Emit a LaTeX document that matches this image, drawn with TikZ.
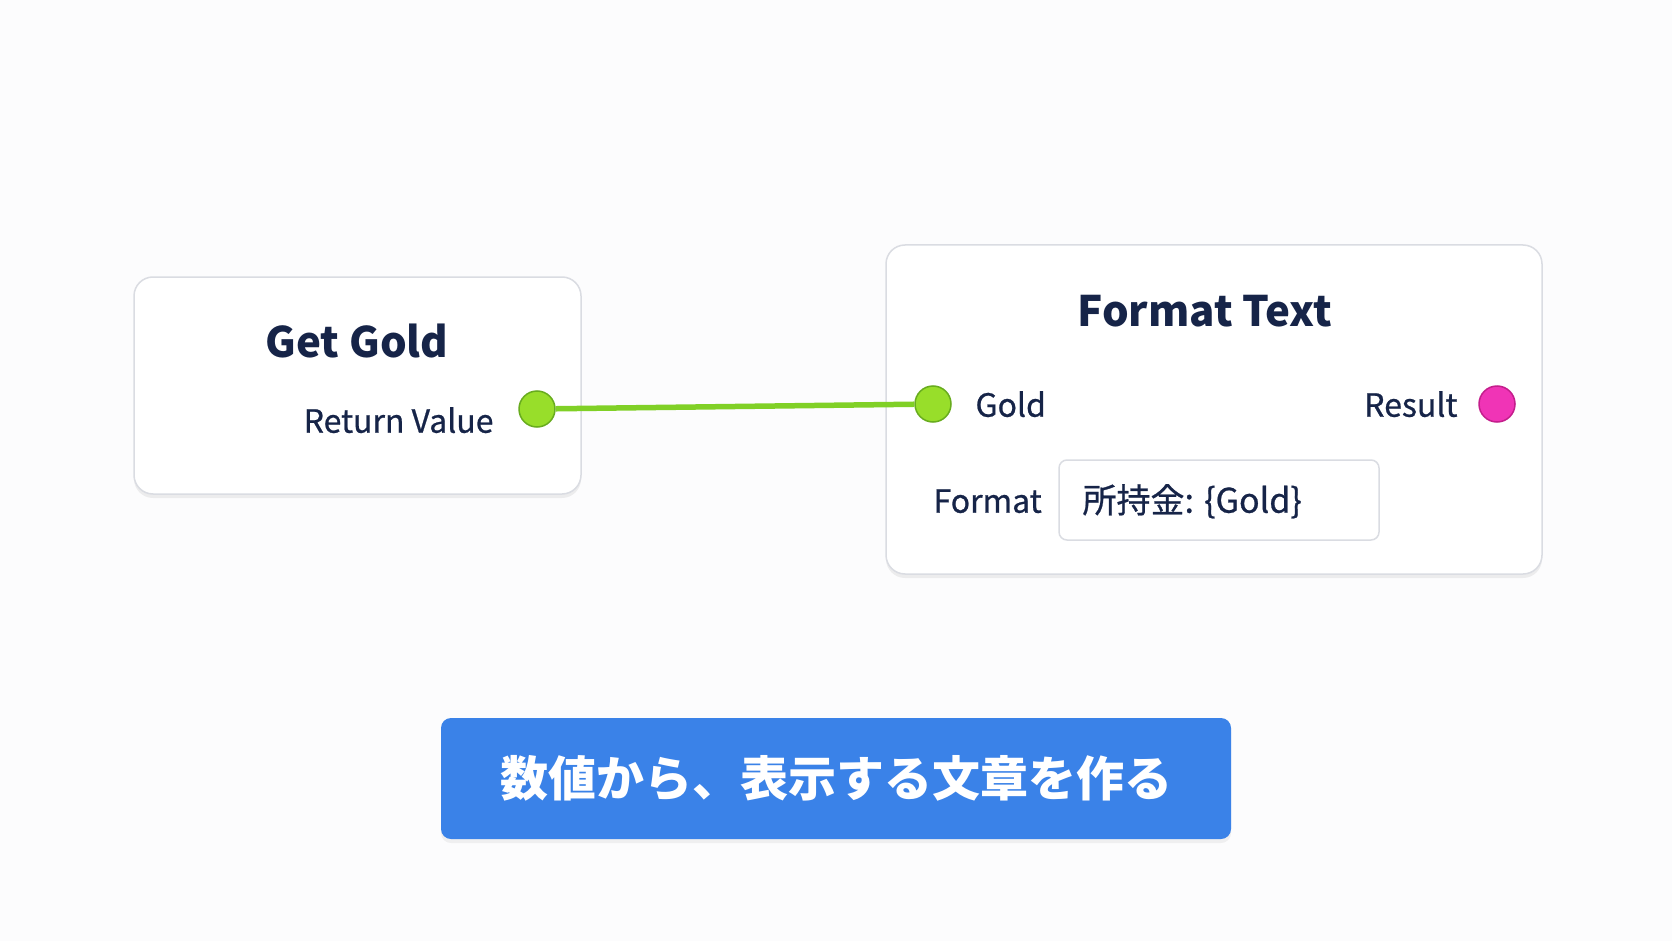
\documentclass[tikz,border=0pt]{standalone}
\usepackage{fontspec}
\setmainfont{Noto Sans CJK JP}
\newfontfamily\jpfont{Noto Sans CJK JP}
\newfontfamily\medfont{Noto Sans CJK JP}[FakeBold=0.7]
\usetikzlibrary{positioning,shadows}
\definecolor{inkline}{RGB}{22,36,72}
\definecolor{boxline}{RGB}{218,220,226}
\definecolor{pagefill}{RGB}{252,252,253}
\definecolor{portfill}{RGB}{152,222,42}
\definecolor{portline}{RGB}{104,172,30}
\definecolor{wirecol}{RGB}{128,208,38}
\definecolor{pinkfill}{RGB}{240,52,182}
\definecolor{pinkline}{RGB}{196,30,140}
\definecolor{bannerfill}{RGB}{58,130,232}

\begin{document}
\begin{tikzpicture}[x=1pt, y=-1pt,
  gnode/.style={draw=boxline, line width=1.5pt, rounded corners=19pt, fill=white,
    drop shadow={opacity=0.12, shadow xshift=0pt, shadow yshift=-4pt}},
  title/.style={text=inkline, font=\fontsize{42}{48}\selectfont\bfseries},
  plabel/.style={text=inkline, font=\fontsize{32}{38}\selectfont\medfont},
  port/.style={circle, draw=portline, fill=portfill, line width=1.5pt, minimum size=36pt, inner sep=0pt},
  portp/.style={port, draw=pinkline, fill=pinkfill},
  wire/.style={draw=wirecol, line width=5.5pt},
  field/.style={draw=boxline, line width=1.5pt, rounded corners=8pt, fill=white},
  banner/.style={fill=bannerfill, rounded corners=10pt, text=white,
    font=\fontsize{48}{54}\selectfont\jpfont\bfseries,
    drop shadow={opacity=0.10, shadow xshift=0pt, shadow yshift=-4pt}}]

\fill[pagefill] (0,0) rectangle (1672,941);
\useasboundingbox (0,0) rectangle (1672,941);

% ---- node boxes ----
\node[gnode, minimum width=447pt, minimum height=217pt] (getgold) at (357.5,385.5) {};
\node[gnode, minimum width=656pt, minimum height=329pt] (fmttext) at (1214,409.5) {};

% ---- titles ----
\node[title] (getgoldT) at (357,341) {Get Gold};
\node[title] (fmttextT) at (1205,311) {Format Text};

% ---- pins ----
\node[port] (rv) at (537,409) {};
\node[port] (goldin) at (933,404) {};
\node[portp] (result) at (1497,404) {};
\node[plabel, anchor=mid east] (rvL) at (497,430) {Return Value};
\node[plabel, anchor=mid west] (goldL) at (972,414) {Gold};
\node[plabel, anchor=mid east] (resultL) at (1461,414) {Result};
\node[plabel, anchor=mid west] (formatL) at (930,510) {Format};

% ---- format field ----
\node[field, minimum width=320pt, minimum height=80pt] (fmtfield) at (1219,500) {};
\node[plabel, font=\fontsize{34}{40}\selectfont\medfont, anchor=mid west] (fmtval) at (1079,510) {所持金: \{Gold\}};

% ---- wire ----
\draw[wire] (rv) -- (goldin);

% ---- caption ----
\node[banner, minimum width=790pt, minimum height=121pt] (cap) at (836,778.5) {数値から、表示する文章を作る};
\end{tikzpicture}
\end{document}
